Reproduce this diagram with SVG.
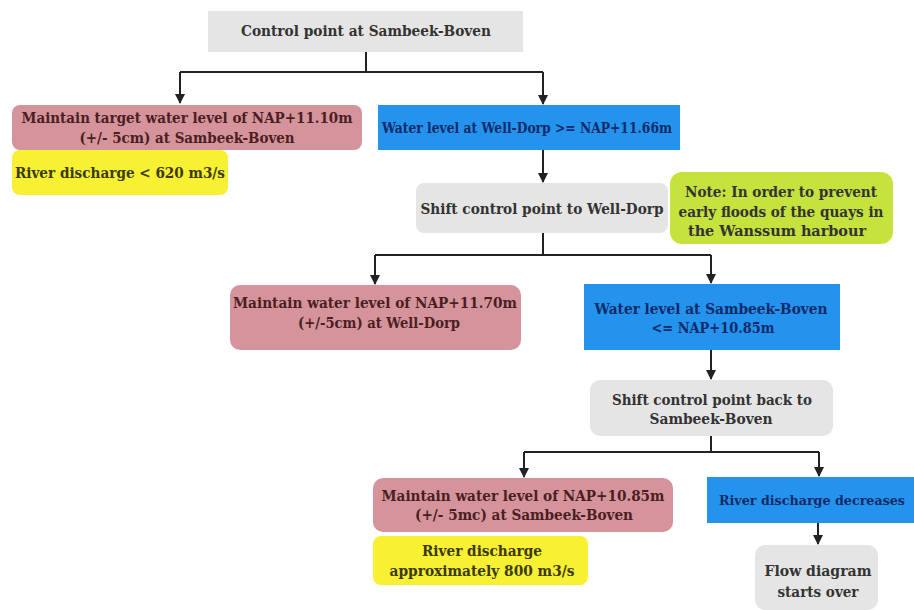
<svg xmlns="http://www.w3.org/2000/svg" width="914" height="610" viewBox="0 0 914 610">
<defs>
<marker id="arr" viewBox="0 0 10 10" refX="9" refY="5" markerWidth="5" markerHeight="5" orient="auto"><path d="M0,0 L10,5 L0,10 z" fill="#222"/></marker>
<style>
text{font-family:"DejaVu Serif","Liberation Serif",serif;font-weight:bold;font-size:14.5px;text-anchor:middle}
.gray{fill:#e5e5e5}
.pink{fill:#d5949b}
.blue{fill:#2493ee}
.yellow{fill:#f8f032}
.lime{fill:#c6e23c}
.tg{fill:#333}
.tp{fill:#4a1e22}
.tb{fill:#0f2a66}
.ty{fill:#3a3a08}
.conn{fill:none;stroke:#222;stroke-width:2}
</style>
</defs>
<rect width="914" height="610" fill="#fff"/>
<g id="connectors">
<path class="conn" d="M366,52 V72"/>
<path class="conn" d="M180,72 H543"/>
<path class="conn" d="M180,72 V103" marker-end="url(#arr)"/>
<path class="conn" d="M543,72 V104" marker-end="url(#arr)"/>
<path class="conn" d="M543,150 V182" marker-end="url(#arr)"/>
<path class="conn" d="M543,233 V255"/>
<path class="conn" d="M375,255 H711"/>
<path class="conn" d="M375,255 V284" marker-end="url(#arr)"/>
<path class="conn" d="M711,255 V283" marker-end="url(#arr)"/>
<path class="conn" d="M711,350 V379" marker-end="url(#arr)"/>
<path class="conn" d="M711,436 V452"/>
<path class="conn" d="M524,452 H819"/>
<path class="conn" d="M524,452 V477" marker-end="url(#arr)"/>
<path class="conn" d="M819,452 V476" marker-end="url(#arr)"/>
<path class="conn" d="M818,523 V544" marker-end="url(#arr)"/>
</g>
<g id="n1"><rect class="gray" x="208" y="11" width="315" height="41"/><text class="tg" x="366" y="36" textLength="250" lengthAdjust="spacingAndGlyphs">Control point at Sambeek-Boven</text></g>
<g id="n2"><rect class="pink" x="12" y="105" width="350" height="45" rx="8"/><text class="tp" x="187" y="123" textLength="331" lengthAdjust="spacingAndGlyphs">Maintain target water level of NAP+11.10m</text><text class="tp" x="187" y="143" textLength="215" lengthAdjust="spacingAndGlyphs">(+/- 5cm) at Sambeek-Boven</text></g>
<g id="n3"><rect class="yellow" x="12" y="150" width="216" height="45" rx="8"/><text class="ty" x="15" y="178" style="text-anchor:start" textLength="210" lengthAdjust="spacingAndGlyphs">River discharge &lt; 620 m3/s</text></g>
<g id="n4"><rect class="blue" x="378" y="105" width="302" height="45"/><text class="tb" x="527" y="133" textLength="290" lengthAdjust="spacingAndGlyphs">Water level at Well-Dorp &gt;= NAP+11.66m</text></g>
<g id="n5"><rect class="gray" x="416" y="183" width="252" height="50" rx="8"/><text class="tg" x="542" y="214" textLength="243" lengthAdjust="spacingAndGlyphs">Shift control point to Well-Dorp</text></g>
<g id="n6"><rect class="lime" x="670" y="172" width="223" height="72" rx="12"/><text class="tg" x="781" y="197" textLength="192" lengthAdjust="spacingAndGlyphs">Note: In order to prevent</text><text class="tg" x="781" y="217" textLength="205" lengthAdjust="spacingAndGlyphs">early floods of the quays in</text><text class="tg" x="777" y="236" textLength="178" lengthAdjust="spacingAndGlyphs">the Wanssum harbour</text></g>
<g id="n7"><rect class="pink" x="230" y="285" width="291" height="65" rx="10"/><text class="tp" x="375" y="308" textLength="284" lengthAdjust="spacingAndGlyphs">Maintain water level of NAP+11.70m</text><text class="tp" x="379" y="328" textLength="162" lengthAdjust="spacingAndGlyphs">(+/-5cm) at Well-Dorp</text></g>
<g id="n8"><rect class="blue" x="584" y="284" width="256" height="66"/><text class="tb" x="711" y="314" textLength="233" lengthAdjust="spacingAndGlyphs">Water level at Sambeek-Boven</text><text class="tb" x="713" y="333" textLength="123" lengthAdjust="spacingAndGlyphs">&lt;= NAP+10.85m</text></g>
<g id="n9"><rect class="gray" x="590" y="380" width="243" height="56" rx="10"/><text class="tg" x="712" y="405" textLength="200" lengthAdjust="spacingAndGlyphs">Shift control point back to</text><text class="tg" x="711" y="424" textLength="123" lengthAdjust="spacingAndGlyphs">Sambeek-Boven</text></g>
<g id="n10"><rect class="pink" x="373" y="478" width="300" height="54" rx="10"/><text class="tp" x="523" y="501" textLength="283" lengthAdjust="spacingAndGlyphs">Maintain water level of NAP+10.85m</text><text class="tp" x="524" y="520" textLength="218" lengthAdjust="spacingAndGlyphs">(+/- 5mc) at Sambeek-Boven</text></g>
<g id="n11"><rect class="yellow" x="373" y="536" width="215" height="49" rx="8"/><text class="ty" x="482" y="556" textLength="120" lengthAdjust="spacingAndGlyphs">River discharge</text><text class="ty" x="482" y="576" textLength="185" lengthAdjust="spacingAndGlyphs">approximately 800 m3/s</text></g>
<g id="n12"><rect class="blue" x="707" y="477" width="207" height="46"/><text class="tb" x="719" y="505" style="text-anchor:start;font-size:13px" textLength="186" lengthAdjust="spacingAndGlyphs">River discharge decreases</text></g>
<g id="n13"><rect class="gray" x="755" y="545" width="123" height="65" rx="10"/><text class="tg" x="818" y="576" textLength="107" lengthAdjust="spacingAndGlyphs">Flow diagram</text><text class="tg" x="818" y="597" textLength="81" lengthAdjust="spacingAndGlyphs">starts over</text></g>
</svg>
